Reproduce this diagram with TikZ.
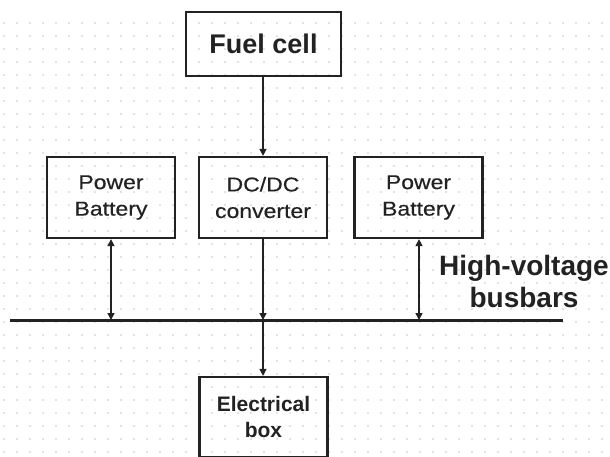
\documentclass[tikz,border=0pt]{standalone}
\usepackage{fontspec}
\setmainfont{Liberation Sans}
\newfontfamily\boxfont[FakeStretch=1.15,FakeBold=0.4]{Liberation Sans}
\usetikzlibrary{arrows.meta}
\definecolor{ink}{HTML}{222222}
\definecolor{dotc}{HTML}{C8C8C8}
\begin{document}
\begin{tikzpicture}[x=1pt,y=-1pt,
  blk/.style={draw=ink,line width=2.3pt,minimum width=#1,inner sep=0pt,align=center,text=ink},
  txt/.style={font=\boxfont\fontsize{20}{26.5}\selectfont},
  conn/.style={draw=ink,line width=1.5pt,-{Triangle[length=7pt,width=7pt]}},
  bconn/.style={draw=ink,line width=1.5pt,{Triangle[length=7pt,width=7pt]}-{Triangle[length=7pt,width=7pt]}}]
\useasboundingbox (0,0) rectangle (610,456);
\clip (0,0) rectangle (610,456);
\fill[white] (0,0) rectangle (610,456);
\foreach \i in {0,...,47} {
  \foreach \j in {0,...,33} {
    \fill[dotc] (4+13*\i,23+13*\j) circle (0.9pt);
  }
}
\node[blk=155pt,minimum height=64pt,font=\fontsize{27}{30}\selectfont\bfseries] (fc) at (263.5,44) {Fuel cell};
\node[blk=128pt,minimum height=81pt,txt] (pbl) at (111,197.5) {Power\\Battery};
\node[blk=128pt,minimum height=81pt,txt] (dc) at (263,197.5) {DC/DC\\converter};
\node[blk=128pt,minimum height=81pt,txt] (pbr) at (418.5,197.5) {Power\\Battery};
\node[blk=128pt,minimum height=80pt,font=\fontsize{21}{26}\selectfont\bfseries] (eb) at (263.5,417) {Electrical\\box};
\node[font=\fontsize{28}{32}\selectfont\bfseries,text=ink,align=center] (hv) at (524,281) {High-voltage\\busbars};
\coordinate (busL) at (10,320);
\coordinate (busR) at (563,320);
\draw[ink,line width=3pt] (busL) -- (busR);
\coordinate (bl) at (111,320);
\coordinate (bm) at (263,320);
\coordinate (br) at (419,320);
\draw[conn] (fc.south -| dc.north) -- (dc.north);
\draw[bconn] (pbl.south) -- (bl);
\draw[conn] (dc.south) -- (bm);
\draw[bconn] (br |- pbr.south) -- (br);
\draw[conn] (bm) -- (bm |- eb.north);
\end{tikzpicture}
\end{document}
